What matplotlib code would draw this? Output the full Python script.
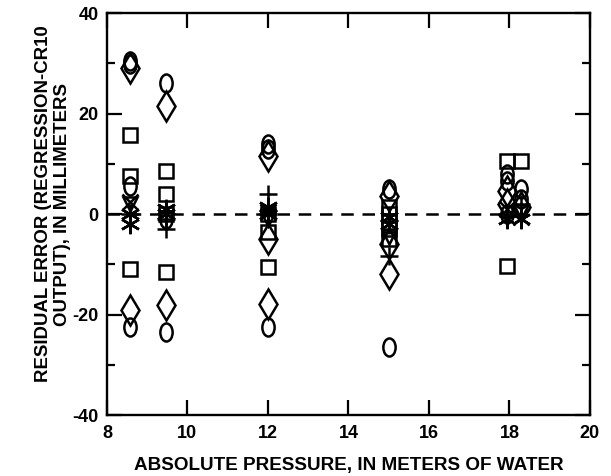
import numpy as np
import matplotlib.pyplot as plt
from matplotlib.path import Path
from matplotlib.transforms import Affine2D

# residuals, grouped by symbol
circle_x = [8.57, 8.57, 8.57, 8.57, 9.47, 9.47, 9.47, 12.0, 12.0, 12.0, 15.0, 15.0, 17.95, 17.95, 17.95, 18.3, 18.3]
circle_y = [30.5, 29.8, 5.5, -22.5, 26.0, -23.5, -1.0, 14.0, 13.0, -22.5, 5.0, -26.5, 8.0, 6.5, 0.0, 5.0, 3.0]

diamond_x = [8.57, 8.57, 9.47, 9.47, 12.0, 12.0, 12.0, 15.0, 15.0, 15.0, 17.95, 17.95, 18.3]
diamond_y = [29.0, -19.0, 21.5, -18.0, 11.5, -5.0, -17.8, 3.5, -6.0, -12.0, 4.5, 2.0, 1.5]

square_x = [8.57, 8.57, 8.57, 9.47, 9.47, 9.47, 9.47, 12.0, 12.0, 12.0, 15.0, 15.0, 15.0, 15.0, 15.0, 17.95, 17.95, 18.3]
square_y = [15.8, 7.5, -11.0, 8.5, 4.0, -11.5, 0.0, -3.5, -10.5, 0.0, 1.5, 0.0, -1.5, -3.0, -5.0, 10.6, -10.3, 10.6]

tri_x = [8.57, 12.0, 15.0, 18.3]
tri_y = [2.0, -1.0, -4.5, 0.5]

plus_x = [8.57, 9.47, 9.47, 12.0, 12.0, 15.0, 17.95, 18.3]
plus_y = [0.0, -1.0, -3.0, 4.0, 0.0, -8.3, 0.0, 2.0]

star_x = [8.57, 8.57, 9.47, 9.47, 12.0, 12.0, 15.0, 15.0, 17.95, 18.3]
star_y = [0.0, -2.0, 1.0, 0.0, 1.5, 0.0, -0.5, -2.0, -1.0, -1.0]

cross_x = [8.57, 12.0, 17.95, 18.3]
cross_y = [2.5, 0.5, 1.0, -0.5]

plt.rcParams['font.family'] = ['Liberation Sans', 'DejaVu Sans']
plt.rcParams['font.weight'] = 'bold'
plt.rcParams['axes.unicode_minus'] = False

# tall ellipse for the "O" symbols
ellipse = Affine2D().scale(0.68, 1.0).transform_path(Path.unit_circle())

fig = plt.figure(figsize=(6.11, 4.76), dpi=100)
ax = fig.add_axes([0.175, 0.128, 0.7905, 0.8445])

ax.axhline(0, color='black', lw=1.8, ls=(0, (5, 3.5)), zorder=1)

kw = dict(ls='none', color='black', mfc='none', mew=1.8, zorder=3)
ax.plot(circle_x, circle_y, marker=ellipse, ms=13, **kw)
ax.plot(diamond_x, diamond_y, marker='d', ms=15, **kw)
ax.plot(square_x, square_y, marker='s', ms=10, **kw)
ax.plot(tri_x, tri_y, marker='v', ms=10, **kw)
ax.plot(plus_x, plus_y, marker='+', ms=13, **kw)
ax.plot(star_x, star_y, marker=(6, 2, 0), ms=14, **kw)
ax.plot(cross_x, cross_y, marker='x', ms=12, **kw)

ax.set_xlim(8, 20)
ax.set_ylim(-40, 40)
ax.set_xticks(np.arange(8, 21, 2))
ax.set_yticks(np.arange(-40, 41, 20))
ax.set_yticks(np.arange(-30, 31, 20), minor=True)
ax.tick_params(which='both', direction='in', top=True, right=True, width=1.6, labelsize=13)
ax.tick_params(axis='x', pad=7)
ax.tick_params(axis='y', pad=6)
ax.tick_params(which='major', length=11)
ax.tick_params(which='minor', length=6)
for s in ax.spines.values():
    s.set_linewidth(1.7)

ax.set_xlabel('ABSOLUTE PRESSURE, IN METERS OF WATER', fontsize=13.6, fontweight='bold', labelpad=11)
ax.set_ylabel('RESIDUAL ERROR (REGRESSION-CR10\nOUTPUT), IN MILLIMETERS', fontsize=13.4,
              fontweight='bold', linespacing=1.15)
ax.yaxis.set_label_coords(-0.075, 0.525)

fig.savefig('out.png', dpi=100)
